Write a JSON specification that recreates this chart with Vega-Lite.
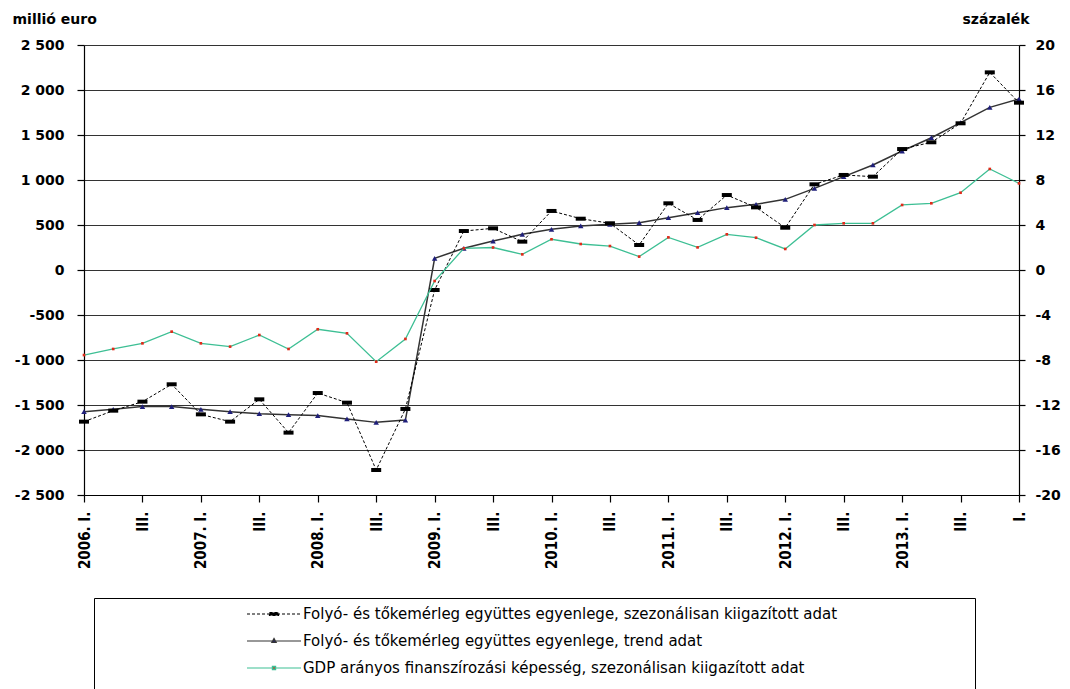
{
  "$schema": "https://vega.github.io/schema/vega-lite/v6.json",
  "width": 935,
  "height": 450,
  "autosize": {"type": "none"},
  "padding": {"left": 84, "top": 45, "right": 51, "bottom": 194},
  "background": "white",
  "config": {
    "view": {"stroke": null},
    "axis": {"domainColor": "black", "tickColor": "black", "labelColor": "black", "titleColor": "black", "gridColor": "#333333", "gridWidth": 1, "domainWidth": 1.2, "tickWidth": 1.2}
  },
  "data": {"values": [
    {"t":0,"s":"S","v":-1685},{"t":1,"s":"S","v":-1563},{"t":2,"s":"S","v":-1463},{"t":3,"s":"S","v":-1270},
    {"t":4,"s":"S","v":-1604},{"t":5,"s":"S","v":-1685},{"t":6,"s":"S","v":-1437},{"t":7,"s":"S","v":-1807},
    {"t":8,"s":"S","v":-1367},{"t":9,"s":"S","v":-1474},{"t":10,"s":"S","v":-2222},{"t":11,"s":"S","v":-1544},
    {"t":12,"s":"S","v":-222},{"t":13,"s":"S","v":433},{"t":14,"s":"S","v":463},{"t":15,"s":"S","v":315},
    {"t":16,"s":"S","v":656},{"t":17,"s":"S","v":570},{"t":18,"s":"S","v":519},{"t":19,"s":"S","v":278},
    {"t":20,"s":"S","v":741},{"t":21,"s":"S","v":556},{"t":22,"s":"S","v":833},{"t":23,"s":"S","v":696},
    {"t":24,"s":"S","v":470},{"t":25,"s":"S","v":952},{"t":26,"s":"S","v":1056},{"t":27,"s":"S","v":1037},
    {"t":28,"s":"S","v":1344},{"t":29,"s":"S","v":1419},{"t":30,"s":"S","v":1630},{"t":31,"s":"S","v":2196},
    {"t":32,"s":"S","v":1859},
    {"t":0,"s":"T","v":-1574},{"t":1,"s":"T","v":-1548},{"t":2,"s":"T","v":-1518},{"t":3,"s":"T","v":-1518},
    {"t":4,"s":"T","v":-1548},{"t":5,"s":"T","v":-1574},{"t":6,"s":"T","v":-1596},{"t":7,"s":"T","v":-1607},
    {"t":8,"s":"T","v":-1618},{"t":9,"s":"T","v":-1655},{"t":10,"s":"T","v":-1693},{"t":11,"s":"T","v":-1667},
    {"t":12,"s":"T","v":130},{"t":13,"s":"T","v":241},{"t":14,"s":"T","v":322},{"t":15,"s":"T","v":396},
    {"t":16,"s":"T","v":452},{"t":17,"s":"T","v":489},{"t":18,"s":"T","v":507},{"t":19,"s":"T","v":526},
    {"t":20,"s":"T","v":581},{"t":21,"s":"T","v":637},{"t":22,"s":"T","v":693},{"t":23,"s":"T","v":730},
    {"t":24,"s":"T","v":785},{"t":25,"s":"T","v":907},{"t":26,"s":"T","v":1037},{"t":27,"s":"T","v":1167},
    {"t":28,"s":"T","v":1322},{"t":29,"s":"T","v":1470},{"t":30,"s":"T","v":1637},{"t":31,"s":"T","v":1807},
    {"t":32,"s":"T","v":1900},
    {"t":0,"s":"G","v":-7.56},{"t":1,"s":"G","v":-7.02},{"t":2,"s":"G","v":-6.52},{"t":3,"s":"G","v":-5.48},
    {"t":4,"s":"G","v":-6.52},{"t":5,"s":"G","v":-6.81},{"t":6,"s":"G","v":-5.78},{"t":7,"s":"G","v":-7.02},
    {"t":8,"s":"G","v":-5.27},{"t":9,"s":"G","v":-5.63},{"t":10,"s":"G","v":-8.15},{"t":11,"s":"G","v":-6.13},
    {"t":12,"s":"G","v":-0.98},{"t":13,"s":"G","v":1.93},{"t":14,"s":"G","v":2.0},{"t":15,"s":"G","v":1.39},
    {"t":16,"s":"G","v":2.73},{"t":17,"s":"G","v":2.31},{"t":18,"s":"G","v":2.13},{"t":19,"s":"G","v":1.19},
    {"t":20,"s":"G","v":2.9},{"t":21,"s":"G","v":2.01},{"t":22,"s":"G","v":3.17},{"t":23,"s":"G","v":2.87},
    {"t":24,"s":"G","v":1.87},{"t":25,"s":"G","v":4.0},{"t":26,"s":"G","v":4.15},{"t":27,"s":"G","v":4.15},
    {"t":28,"s":"G","v":5.78},{"t":29,"s":"G","v":5.93},{"t":30,"s":"G","v":6.87},{"t":31,"s":"G","v":8.98},
    {"t":32,"s":"G","v":7.7}
  ]},
  "encoding": {
    "x": {
      "field": "t", "type": "quantitative",
      "scale": {"domain": [0, 32], "nice": false, "zero": false},
      "axis": {
        "title": null, "grid": false,
        "values": [0,2,4,6,8,10,12,14,16,18,20,22,24,26,28,30,32],
        "labelExpr": "datum.value == 32 ? 'I.' : (datum.value % 4 == 0 ? (2006 + datum.value / 4) + '. I.' : 'III.')",
        "labelAngle": -90, "labelAlign": "right", "labelBaseline": "middle",
        "labelFont": "'DejaVu Sans Condensed', 'Liberation Sans', sans-serif", "labelFontWeight": "bold", "labelFontSize": 15,
        "tickSize": 7, "labelPadding": 9, "labelFlush": false, "labelOverlap": false
      }
    }
  },
  "layer": [
    {
      "encoding": {
        "y": {
          "field": "v", "type": "quantitative",
          "scale": {"domain": [-2500, 2500], "nice": false, "zero": false},
          "axis": {
            "orient": "left", "values": [-2500,-2000,-1500,-1000,-500,0,500,1000,1500,2000,2500],
            "labelExpr": "(datum.value < 0 ? '-' : '') + replace(format(abs(datum.value), ','), ',', ' ')",
            "labelFont": "DejaVu Sans", "labelFontWeight": "bold", "labelFontSize": 14,
            "tickSize": 7, "labelPadding": 13, "grid": true,
            "title": "millió euro", "titleAngle": 0, "titleAlign": "left", "titleBaseline": "middle",
            "titleX": -72, "titleY": -26, "titleFont": "DejaVu Sans", "titleFontWeight": "bold", "titleFontSize": 14
          }
        }
      },
      "layer": [
        {
          "transform": [{"filter": "datum.s == 'T'"}],
          "mark": {"type": "line", "strokeWidth": 1.5},
          "encoding": {"color": {"field": "s", "type": "nominal"}}
        },
        {
          "transform": [{"filter": "datum.s == 'T'"}],
          "mark": {"type": "point", "shape": "triangle-up", "size": 30, "filled": true, "color": "#1f1f7a", "opacity": 1}
        },
        {
          "transform": [{"filter": "datum.s == 'S'"}],
          "mark": {"type": "line", "strokeWidth": 1, "strokeDash": [3, 2]},
          "encoding": {"color": {"field": "s", "type": "nominal"}}
        },
        {
          "transform": [{"filter": "datum.s == 'S'"}],
          "mark": {"type": "point", "shape": "M-1,-0.4H1V0.4H-1Z", "size": 100, "filled": true, "color": "black", "opacity": 1}
        }
      ]
    },
    {
      "encoding": {
        "y": {
          "field": "v", "type": "quantitative",
          "scale": {"domain": [-20, 20], "nice": false, "zero": false},
          "axis": {
            "orient": "right", "values": [-20,-16,-12,-8,-4,0,4,8,12,16,20],
            "labelExpr": "(datum.value < 0 ? '-' : '') + abs(datum.value)",
            "labelFont": "DejaVu Sans", "labelFontWeight": "bold", "labelFontSize": 14,
            "tickSize": 6, "labelPadding": 10, "grid": false,
            "title": "százalék", "titleAngle": 0, "titleAlign": "left", "titleBaseline": "middle",
            "titleX": -57, "titleY": -26, "titleFont": "DejaVu Sans", "titleFontWeight": "bold", "titleFontSize": 14
          }
        }
      },
      "layer": [
        {
          "transform": [{"filter": "datum.s == 'G'"}],
          "mark": {"type": "line", "strokeWidth": 1.3},
          "encoding": {
            "color": {
              "field": "s", "type": "nominal",
              "scale": {"domain": ["S", "T", "G"], "range": ["#000000", "#333333", "#3dbf94"]},
              "legend": {
                "orient": "none", "legendX": 10, "legendY": 553, "direction": "vertical",
                "title": null,
                "labelExpr": "datum.value == 'S' ? 'Folyó- és tőkemérleg együttes egyenlege, szezonálisan kiigazított adat' : (datum.value == 'T' ? 'Folyó- és tőkemérleg együttes egyenlege, trend adat' : 'GDP arányos finanszírozási képesség, szezonálisan kiigazított adat')",
                "symbolType": "M-2.7,0H2.7", "symbolSize": 400, "symbolStrokeWidth": 1.2,
                "symbolOffset": 164,
                "labelFont": "DejaVu Sans", "labelFontSize": 15, "labelColor": "black", "labelLimit": 900, "labelOffset": 18,
                "rowPadding": 8, "strokeColor": "black", "padding": 5,
                "encode": {
                  "symbols": {
                    "update": {
                      "shape": {"signal": "datum.value == 'G' ? 'M-2.7,0H2.7M-0.16,-0.16H0.16V0.16H-0.16ZM69.3,0M0,2.5' : (datum.value == 'T' ? 'M-2.7,0H2.7M0,-0.25L0.22,0.15H-0.22ZM69.3,0' : 'M-2.7,0H2.7M-0.45,-0.15H0.45V0.15H-0.45ZM69.3,0')"},
                      "fill": {"signal": "datum.value == 'G' ? '#e02a1a' : (datum.value == 'T' ? '#1f1f7a' : 'black')"},
                      "strokeDash": {"signal": "datum.value == 'S' ? [3, 2] : [1, 0]"}
                    }
                  }
                }
              }
            }
          }
        },
        {
          "transform": [{"filter": "datum.s == 'G'"}],
          "mark": {"type": "point", "shape": "square", "size": 7, "filled": true, "color": "#e02a1a", "opacity": 1}
        }
      ]
    }
  ],
  "resolve": {"scale": {"y": "independent", "color": "shared"}}
}
